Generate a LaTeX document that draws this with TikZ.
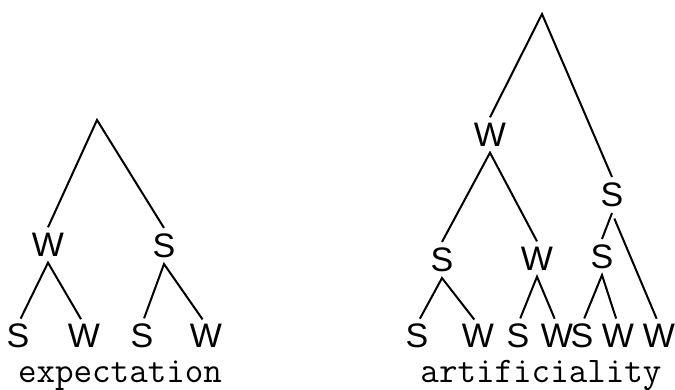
\documentclass[tikz,border=0pt]{standalone}
\usepackage{fontspec}
\newfontfamily\handfont{Liberation Sans}
\usetikzlibrary{positioning}

\begin{document}
\begin{tikzpicture}[x=1pt,y=-1pt,
    lab/.style={inner sep=0pt,outer xsep=0pt,outer ysep=6pt,font=\handfont\fontsize{34}{34}\selectfont},
    lf/.style={lab,outer ysep=0pt},
    wd/.style={inner sep=0pt,anchor=base,font=\ttfamily\fontsize{36}{36}\selectfont},
    ln/.style={line width=2pt},
    tl/.style={ln,shorten <=6pt,shorten >=6pt}]
    \useasboundingbox (0,0) rectangle (675,390);
    % expectation
    \coordinate (eroot) at (97,120);
    \node[lab] (ew) at (48,245) {W};
    \node[lab] (es) at (164,246) {S};
    \node[lf] (ews) at (18,336) {S};
    \node[lf] (eww) at (84,336) {W};
    \node[lf] (ess) at (142,336) {S};
    \node[lf] (esw) at (206,336) {W};
    \node[wd] (eword) at (120,382) {expectation};
    \draw[ln] (ew.north)--(eroot)--(es.north);
    \draw[tl] (ews.north)--(ew.south)--(eww.north);
    \draw[tl] (ess.north)--(es.south)--(esw.north);
    % artificiality
    \coordinate (aroot) at (542,14);
    \node[lab] (aw) at (490,135) {W};
    \node[lab] (as) at (612,195) {S};
    \node[lab] (aws) at (442,260) {S};
    \node[lab] (aww) at (537,259) {W};
    \node[lab] (ass) at (602,257) {S};
    \node[lf] (awss) at (417,336) {S};
    \node[lf] (awsw) at (478,336) {W};
    \node[lf] (awws) at (518,336) {S};
    \node[lf] (awww) at (557,336) {W};
    \node[lf] (asss) at (582,336) {S};
    \node[lf] (assw) at (618,336) {W};
    \node[lf] (asw) at (659,336) {W};
    \node[wd] (aword) at (541,382) {artificiality};
    \draw[ln] (aw.north)--(aroot)--(as.north);
    \draw[ln] (aws.north)--(aw.south)--(aww.north);
    \draw[ln] (ass.north)--(as.south);
    \draw[tl] (as.south)--(asw.north);
    \draw[tl] (awss.north)--(aws.south)--(awsw.north);
    \draw[tl] (awws.north)--(aww.south)--(awww.north);
    \draw[tl] (asss.north)--(ass.south)--(assw.north);
\end{tikzpicture}
\end{document}
